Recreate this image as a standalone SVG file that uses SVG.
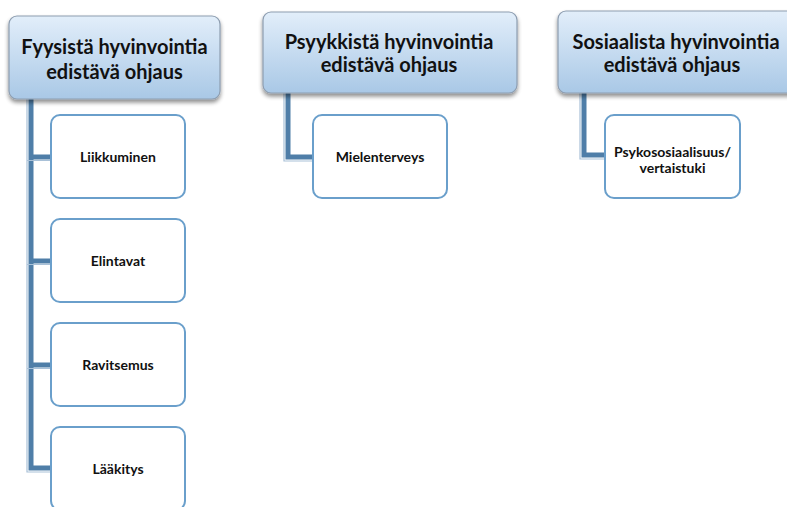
<svg xmlns="http://www.w3.org/2000/svg" width="787" height="507" viewBox="0 0 787 507">
<defs>
<linearGradient id="hg" x1="0" y1="0" x2="0" y2="1">
<stop offset="0" stop-color="#e2eefa"/>
<stop offset="1" stop-color="#a9c8e6"/>
</linearGradient>
<filter id="sh" x="-10%" y="-10%" width="120%" height="130%">
<feGaussianBlur in="SourceAlpha" stdDeviation="2"/>
<feOffset dx="0" dy="3"/>
<feComponentTransfer><feFuncA type="linear" slope="0.45"/></feComponentTransfer>
<feMerge><feMergeNode/><feMergeNode in="SourceGraphic"/></feMerge>
</filter>
</defs>
<style>
.hd{fill:url(#hg);stroke:#8d9db0;stroke-width:1.2;filter:url(#sh)}
.ch{fill:#ffffff;stroke:#6a9fcb;stroke-width:2}
.ht{font-family:Lato,"Liberation Sans",sans-serif;font-weight:bold;font-size:20px;fill:#111;text-anchor:middle}
.ct{font-family:Lato,"Liberation Sans",sans-serif;font-weight:bold;font-size:14px;fill:#111;text-anchor:middle}
.c1{fill:none;stroke:#4f7ea8;stroke-width:5}
.c2{fill:none;stroke:#a9c1d8;stroke-width:1.2}
</style>
<rect width="787" height="507" fill="#ffffff"/>
<g id="connectors">
<path class="c1" d="M31 99 V468 H51"/>
<path class="c1" d="M31 157 H51 M31 261 H51 M31 365 H51"/>
<path class="c2" d="M27 99 V472 H51"/>
<path class="c2" d="M27 160.5 H51 M27 264.5 H51 M27 368.5 H51"/>
<path class="c1" d="M288 93 V157 H313"/>
<path class="c2" d="M284 93 V161 H313"/>
<path class="c1" d="M584 93 V155 H605"/>
<path class="c2" d="M580 93 V159 H605"/>
</g>
<g id="h1"><rect class="hd" x="9" y="16" width="211" height="83" rx="8"/>
<text class="ht" x="114.5" y="54">Fyysistä hyvinvointia</text>
<text class="ht" x="114.5" y="79">edistävä ohjaus</text></g>
<g id="h2"><rect class="hd" x="263" y="12" width="254" height="81" rx="8"/>
<text class="ht" x="389" y="49">Psyykkistä hyvinvointia</text>
<text class="ht" x="389" y="72">edistävä ohjaus</text></g>
<g id="h3"><rect class="hd" x="558" y="11" width="240" height="82" rx="8"/>
<text class="ht" x="676" y="49">Sosiaalista hyvinvointia</text>
<text class="ht" x="672" y="72">edistävä ohjaus</text></g>
<g id="n1"><rect class="ch" x="51" y="115" width="134" height="83" rx="9"/>
<text class="ct" x="118" y="162">Liikkuminen</text></g>
<g id="n2"><rect class="ch" x="51" y="219" width="134" height="83" rx="9"/>
<text class="ct" x="118" y="266">Elintavat</text></g>
<g id="n3"><rect class="ch" x="51" y="323" width="134" height="83" rx="9"/>
<text class="ct" x="118" y="370">Ravitsemus</text></g>
<g id="n4"><rect class="ch" x="51" y="427" width="134" height="83" rx="9"/>
<text class="ct" x="118" y="474">Lääkitys</text></g>
<g id="n5"><rect class="ch" x="313" y="115" width="134" height="83" rx="9"/>
<text class="ct" x="380" y="162">Mielenterveys</text></g>
<g id="n6"><rect class="ch" x="605" y="115" width="135" height="83" rx="9"/>
<text class="ct" x="672.5" y="157">Psykososiaalisuus/</text>
<text class="ct" x="672.5" y="173">vertaistuki</text></g>
</svg>
